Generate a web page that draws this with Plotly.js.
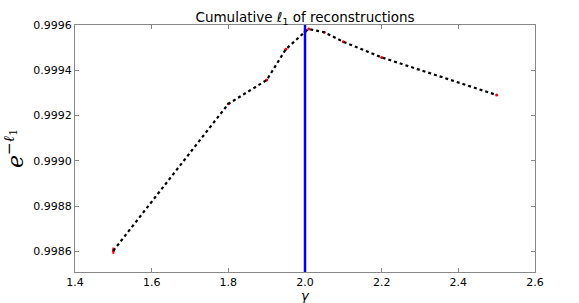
<!DOCTYPE html>
<html>
<head>
<meta charset="utf-8">
<script src="https://cdn.plot.ly/plotly-3.0.1.min.js"></script>
<style>html,body{margin:0;padding:0;background:#fff;}#chart{width:579px;height:303px;}</style>
</head>
<body>
<div id="chart"></div>
<script>
// Data
const gammaValues = [1.5, 1.8, 1.9, 1.95, 2.0, 2.01, 2.05, 2.1, 2.2, 2.5];
const cumulativeScore = [0.998604, 0.999252, 0.999357, 0.999493, 0.99957, 0.999582, 0.999568, 0.999526, 0.999457, 0.999291];
const scoreError = [0.000014, 0.000003, 0.000003, 0.000003, 0.000003, 0.000002, 0.000003, 0.000003, 0.000003, 0.000003];
const bestGamma = [2.0];
const xTicks = [1.4, 1.6, 1.8, 2.0, 2.2, 2.4, 2.6];
const yTicks = [0.9986, 0.9988, 0.9990, 0.9992, 0.9994, 0.9996];

const errTrace = {
  x: gammaValues, y: cumulativeScore, type: 'scatter', mode: 'markers',
  marker: {color: 'red', size: 3},
  error_y: {type: 'data', array: scoreError, visible: true, color: 'red', thickness: 2, width: 0},
  showlegend: false, hoverinfo: 'skip'
};
const lineTrace = {
  x: gammaValues, y: cumulativeScore, type: 'scatter', mode: 'lines',
  line: {color: 'black', width: 2.2, dash: 'dot'},
  showlegend: false
};

const layout = {
  width: 579, height: 303,
  margin: {l: 75, r: 44, t: 25, b: 31},
  paper_bgcolor: '#fff', plot_bgcolor: '#fff',
  font: {family: 'DejaVu Sans', size: 11, color: '#000'},
  title: {
    text: 'Cumulative <i>ℓ</i><sub>1</sub> of reconstructions',
    font: {family: 'DejaVu Sans', size: 13.5, color: '#000'},
    x: 0.5, xref: 'paper', xanchor: 'center',
    y: 1, yref: 'paper', yanchor: 'bottom', pad: {b: 3}
  },
  xaxis: {
    range: [1.4, 2.6], tickvals: xTicks, ticktext: xTicks.map(v => v.toFixed(1)),
    ticks: 'inside', ticklen: 4, tickcolor: '#888', showgrid: false, zeroline: false,
    showline: true, linecolor: '#888', linewidth: 1, mirror: 'ticks',
    tickfont: {family: 'DejaVu Sans', size: 11}
  },
  yaxis: {
    range: [0.99851, 0.9996], tickvals: yTicks, ticktext: yTicks.map(v => v.toFixed(4)),
    ticks: 'inside', ticklen: 4, tickcolor: '#888', showgrid: false, zeroline: false,
    showline: true, linecolor: '#888', linewidth: 1, mirror: 'ticks',
    tickfont: {family: 'DejaVu Sans', size: 11},
    title: {text: '<i>e</i><sup>−<i>ℓ</i><sub>1</sub></sup>', font: {family: 'DejaVu Serif', size: 22}, standoff: 8}
  },
  annotations: [{
    text: '<i>γ</i>', xref: 'paper', yref: 'paper', x: 0.5, y: 0, xanchor: 'center', yanchor: 'top',
    yshift: -14, showarrow: false, font: {family: 'DejaVu Sans', size: 13, color: '#000'}
  }],
  shapes: [{
    type: 'line', xref: 'x', yref: 'paper', x0: bestGamma[0], x1: bestGamma[0], y0: 0, y1: 1,
    line: {color: 'blue', width: 2.5}
  }]
};

Plotly.newPlot('chart', [errTrace, lineTrace], layout, {displayModeBar: false, staticPlot: true});
</script>
</body>
</html>
